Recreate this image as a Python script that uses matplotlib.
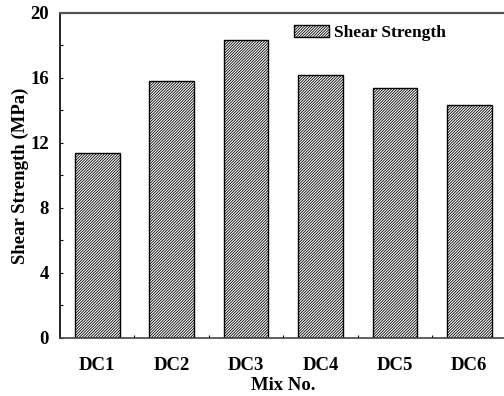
import numpy as np
import matplotlib
matplotlib.use("Agg")
import matplotlib.pyplot as plt
from matplotlib.ticker import MultipleLocator, FixedLocator

mixes = ["DC1", "DC2", "DC3", "DC4", "DC5", "DC6"]
shear = [11.37, 15.8, 18.32, 16.2, 15.37, 14.36]
y_ticks = [0, 4, 8, 12, 16, 20]

plt.rcParams["font.family"] = ["Liberation Serif", "DejaVu Serif"]
plt.rcParams["font.weight"] = "bold"
plt.rcParams["hatch.linewidth"] = 0.6

fig = plt.figure(figsize=(5.04, 3.96), dpi=100)
ax = fig.add_axes([0.119, 0.1465, 0.886, 0.8207])

x = np.arange(len(mixes))
ax.bar(x, shear, width=0.6, color="white", edgecolor="black", hatch="/" * 12,
       linewidth=1.0, label="Shear Strength")

ax.set_xlim(-0.5, len(mixes) - 0.5)
ax.set_ylim(0, 20)
ax.set_xticks(x)
ax.set_xticklabels(mixes, fontsize=13.5, fontweight="bold")
ax.xaxis.set_minor_locator(FixedLocator(x[:-1] + 0.5))
ax.set_yticks(y_ticks)
ax.set_yticklabels([str(v) for v in y_ticks], fontsize=13.5, fontweight="bold")
ax.yaxis.set_minor_locator(MultipleLocator(2))
ax.tick_params(axis="both", which="both", direction="in", length=2, width=0.8)
ax.tick_params(axis="x", which="major", length=0, pad=14)
ax.tick_params(axis="y", which="major", pad=8)

ax.spines["left"].set_linewidth(1.2)
ax.spines["bottom"].set_linewidth(1.2)
ax.spines["bottom"].set_color("#444444")
ax.spines["top"].set_linewidth(1.6)
ax.spines["top"].set_color("#555555")
ax.spines["right"].set_linewidth(1.2)

ax.set_xlabel("Mix No.", fontsize=13.5, fontweight="bold", labelpad=2)
ax.set_ylabel("Shear Strength (MPa)", fontsize=13.5, fontweight="bold", labelpad=1)

ax.legend(loc="upper right", frameon=False, handlelength=2.0,
          handleheight=0.75, handletextpad=0.3, bbox_to_anchor=(0.9, 1.012),
          prop={"weight": "bold", "size": 12.5})

fig.savefig("out.png", dpi=100)
